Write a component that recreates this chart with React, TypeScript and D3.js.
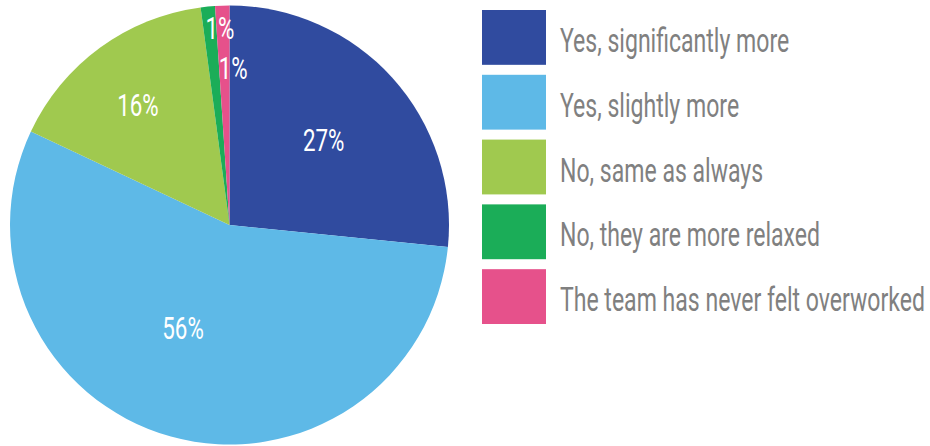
import React, { useRef, useEffect } from 'react';
import * as d3 from 'd3';

const categories = [
  'Yes, significantly more',
  'Yes, slightly more',
  'No, same as always',
  'No, they are more relaxed',
  'The team has never felt overworked',
];
const shares = [26.6, 55.4, 15.9, 1.05, 1.05];
const shareLabels = ['27%', '56%', '16%', '1%', '1%'];
const colors = ['#304b9f', '#5eb9e7', '#a0c94f', '#1bad58', '#e6518b'];

const FONT = 'Roboto, "Noto Sans", sans-serif';

const App: React.FC = () => {
  const ref = useRef<SVGSVGElement>(null);

  useEffect(() => {
    const svg = d3.select(ref.current);
    svg.selectAll('*').remove();

    const cx = 229.5;
    const cy = 225;
    const r = 219.5;

    const pie = d3.pie<number>().sort(null).value(d => d);
    const arcs = pie(shares);
    const arc = d3.arc<d3.PieArcDatum<number>>().innerRadius(0).outerRadius(r);

    const g = svg.append('g').attr('transform', `translate(${cx},${cy})`);
    g.selectAll('path')
      .data(arcs)
      .enter().append('path')
        .attr('d', arc as any)
        .attr('fill', (d, i) => colors[i]);

    // legend
    const legendY = d3.scaleBand<string>()
      .domain(categories)
      .range([10, 324])
      .paddingInner(10 / 65);

    const leg = svg.append('g');
    leg.selectAll('rect')
      .data(categories)
      .enter().append('rect')
        .attr('x', 482)
        .attr('y', d => legendY(d) as number)
        .attr('width', 64)
        .attr('height', legendY.bandwidth())
        .attr('fill', (d, i) => colors[i]);

    const texts = leg.selectAll('text')
      .data(categories)
      .enter().append('text')
        .attr('fill', '#808080')
        .style('font-family', FONT)
        .style('font-weight', 400)
        .style('font-size', '33px')
        .text(d => d);

    let maxW = 0;
    texts.each(function () {
      maxW = Math.max(maxW, (this as SVGTextElement).getComputedTextLength());
    });
    const sx = maxW > 0 ? 365 / maxW : 1;
    texts.attr('transform', d => `translate(560,${(legendY(d) as number) + 42}) scale(${sx},1)`);

    // slice labels: Excel-style placement, the two small slices pushed apart
    const labelR = [0.578, 0.513, 0.69, 0.9, 0.717];
    const labelRot = [0, 8.9, -1, 2.9, 3.2];
    g.selectAll('text')
      .data(arcs)
      .enter().append('text')
        .attr('transform', (d, i) => {
          const a = (d.startAngle + d.endAngle) / 2 + (labelRot[i] * Math.PI) / 180;
          const rr = labelR[i] * r;
          return `translate(${rr * Math.sin(a)},${-rr * Math.cos(a) + 11.5}) scale(${sx},1)`;
        })
        .attr('text-anchor', 'middle')
        .attr('fill', '#ffffff')
        .style('font-family', FONT)
        .style('font-weight', 400)
        .style('font-size', '32px')
        .text((d, i) => shareLabels[i]);
  }, []);

  return (
    <svg ref={ref} width={930} height={446} style={{ display: 'block', position: 'absolute', left: 0, top: 0 }} />
  );
};

export default App;
